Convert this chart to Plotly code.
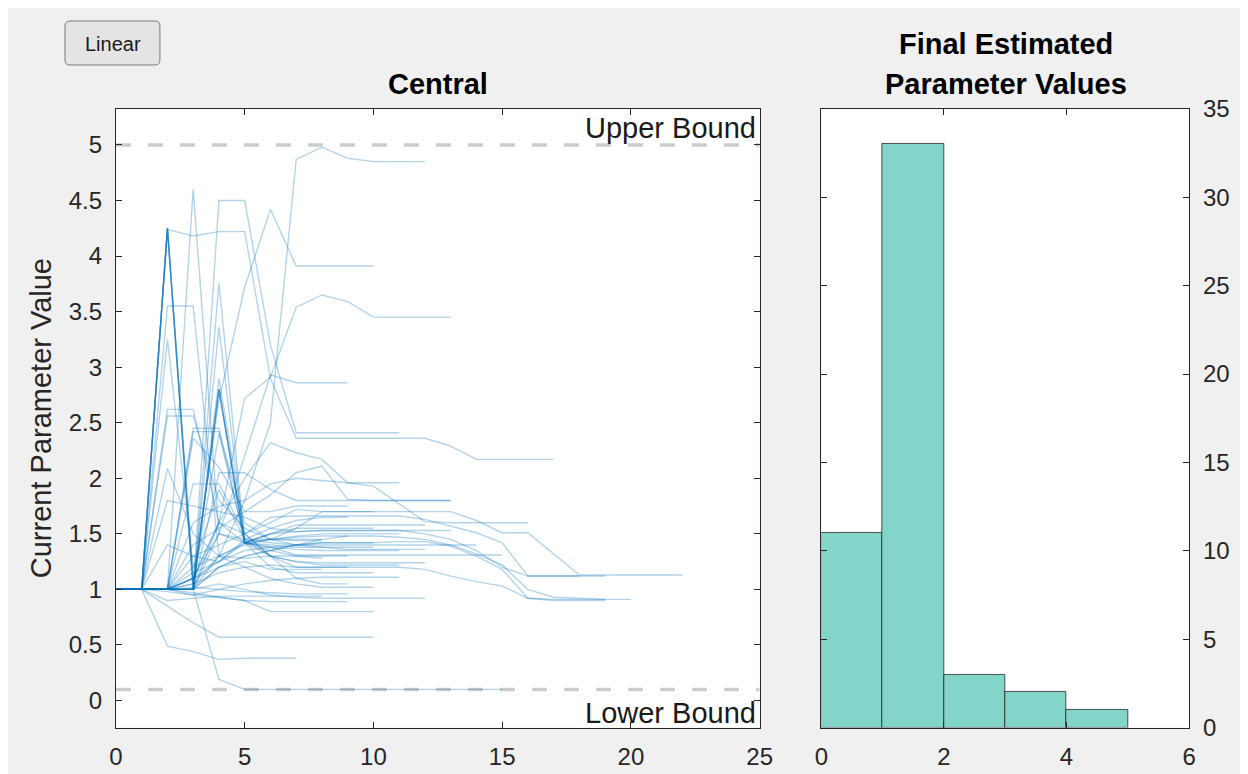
import plotly.graph_objects as go

# ---------------- data ----------------
# Parameter value at each iteration (index = iteration number) for each of 50 runs
run01 = [1, 1, 1, 1.05, 1.3, 1.8, 2.5, 4.87, 4.98, 4.88, 4.85, 4.85, 4.85]
run02 = [1, 1, 1, 1.1, 2.7, 3.72, 4.42, 3.91, 3.91, 3.91, 3.91]
run03 = [1, 1, 1, 1.1, 1.6, 2.72, 2.91, 3.54, 3.65, 3.59, 3.45, 3.45, 3.45, 3.45]
run04 = [1, 1, 1, 1.1, 1.5, 2.2, 2.93, 2.86, 2.86, 2.86]
run05 = [1, 1, 1, 1.0, 4.5, 4.5, 3.2, 2.41, 2.41, 2.41, 2.41, 2.41]
run06 = [1, 1, 4.24, 4.18, 4.22, 4.22, 2.9, 2.36, 2.36, 2.36, 2.36, 2.36, 2.36, 2.29, 2.17, 2.17, 2.17, 2.17]

run07 = [1, 1, 1, 1, 0.19, 0.1, 0.1, 0.1, 0.1, 0.1, 0.1, 0.1, 0.1, 0.1, 0.1, 0.1]
run08 = [1, 1, 0.49, 0.44, 0.37, 0.38, 0.38, 0.38]
run09 = [1, 1, 0.85, 0.70, 0.57, 0.57, 0.57, 0.57, 0.57, 0.57, 0.57]
run10 = [1, 1, 1, 0.97, 0.93, 0.90, 0.80, 0.80, 0.80, 0.80, 0.80]
run11 = [1, 1, 0.98, 0.95, 0.93, 0.90, 0.89, 0.89, 0.89, 0.89]
run12 = [1, 1, 0.9, 0.92, 0.94, 0.94, 0.94, 0.94, 0.94]
run13 = [1, 1, 1, 1.1, 1.25, 1.35, 1.38, 1.40, 1.42, 1.42, 1.42, 1.43, 1.43, 1.39, 1.30, 1.18, 0.92, 0.91, 0.91, 0.91]
run14 = [1, 1, 1, 1.05, 1.15, 1.2, 1.22, 1.2, 1.2, 1.2, 1.2, 1.2, 1.18, 1.12, 1.07, 1.03, 0.92, 0.90, 0.90, 0.90]
run15 = [1, 1, 1, 1, 1.2, 1.3, 1.35, 1.4, 1.45, 1.48, 1.48, 1.47, 1.45, 1.40, 1.32, 1.22, 1.0, 0.93, 0.92, 0.91, 0.91]
run16 = [1, 1, 1, 1.0, 1.05, 1.0, 0.95, 0.93, 0.92, 0.92, 0.92, 0.92, 0.92]
run17 = [1, 1, 1, 1.02, 1.0, 0.98, 0.97, 0.96, 0.96, 0.96]

run18 = [1, 1, 4.25, 1.0, 2.8, 1.42, 1.45, 1.47, 1.48, 1.48]
run19 = [1, 1, 4.25, 1.0, 2.8, 1.42, 1.40, 1.38, 1.38, 1.38, 1.38]
run20 = [1, 1, 4.25, 1.05, 2.4, 1.45, 1.55, 1.62, 1.65, 1.65]
run21 = [1, 1, 3.55, 3.55, 1.3, 1.42, 1.5, 1.55, 1.55, 1.55, 1.55]
run22 = [1, 1, 3.25, 1.2, 1.9, 1.45, 1.42, 1.40, 1.40, 1.40, 1.40, 1.40, 1.40, 1.40, 1.40]
run23 = [1, 1, 2.62, 2.62, 1.6, 1.5, 1.6, 1.72, 1.70, 1.70, 1.70]
run24 = [1, 1, 2.56, 2.56, 1.8, 1.55, 1.45, 1.44, 1.44]
run25 = [1, 1, 2.09, 1.5, 1.3, 1.28, 1.30, 1.30, 1.30, 1.30]
run26 = [1, 1, 1.8, 1.75, 1.7, 1.65, 1.55, 1.52, 1.53, 1.53, 1.53, 1.53, 1.53, 1.53]
run27 = [1, 1, 4.25, 1.0, 2.8, 1.42, 1.38, 1.36, 1.35, 1.35, 1.35, 1.35]
run28 = [1, 1, 4.25, 1.1, 1.6, 1.42, 1.3, 1.25, 1.22, 1.22, 1.22, 1.22]
run29 = [1, 1, 1.4, 1.3, 1.25, 1.45, 1.45, 1.45, 1.45]
run30 = [1, 1, 1, 4.6, 1.5, 1.42, 1.5, 1.58, 1.58, 1.58, 1.58, 1.58, 1.58]
run31 = [1, 1, 1, 2.45, 2.45, 1.42, 1.35, 1.30, 1.28]
run32 = [1, 1, 1, 2.42, 2.42, 1.6, 1.45, 1.40, 1.38, 1.36, 1.36, 1.36, 1.36]
run33 = [1, 1, 1, 2.36, 2.1, 1.7, 1.7, 1.75, 1.75, 1.75]
run34 = [1, 1, 1, 1.95, 1.95, 1.5, 1.3, 1.2, 1.2, 1.20]
run35 = [1, 1, 1, 1.6, 1.75, 1.8, 1.95, 2.0, 1.98, 1.96, 1.93, 1.77, 1.61, 1.60, 1.60, 1.60, 1.60]
run36 = [1, 1, 1, 1.4, 1.55, 1.7, 1.85, 2.05, 2.11, 1.81, 1.80, 1.80, 1.80, 1.80]
run37 = [1, 1, 1, 1.3, 1.4, 1.5, 1.65, 1.66, 1.66, 1.66, 1.66, 1.66, 1.63, 1.57, 1.51, 1.42, 1.12, 1.12, 1.12, 1.12]
run38 = [1, 1, 1, 1.2, 1.3, 1.4, 1.45, 1.55, 1.70, 1.70, 1.70, 1.70, 1.70, 1.70, 1.62, 1.51, 1.51, 1.32, 1.13, 1.13, 1.13, 1.13, 1.13]
run39 = [1, 1, 1, 1.15, 1.25, 1.42, 1.5, 1.52, 1.53, 1.53, 1.53, 1.53, 1.50, 1.45, 1.35, 1.20, 1.12, 1.12, 1.12]
run40 = [1, 1, 1, 1.1, 1.2, 1.3, 1.35, 1.40, 1.42, 1.42, 1.42]
run41 = [1, 1, 1, 0.95, 1.0, 1.05, 1.08, 1.1, 1.11, 1.11, 1.11, 1.11]
run42 = [1, 1, 1, 1, 3.76, 1.42, 1.45, 1.48, 1.50, 1.50, 1.50, 1.50]
run43 = [1, 1, 1, 1, 3.36, 1.42, 1.38, 1.31, 1.31, 1.31, 1.31, 1.31, 1.31, 1.31, 1.31, 1.31]
run44 = [1, 1, 1, 1, 2.9, 1.5, 1.3, 1.25, 1.24, 1.24, 1.24, 1.24, 1.24]
run45 = [1, 1, 1, 1, 2.8, 1.42, 1.2, 1.15, 1.15, 1.15, 1.15]
run46 = [1, 1, 1, 1, 2.05, 2.05, 1.9, 1.8, 1.8, 1.8, 1.8, 1.8, 1.8, 1.8]
run47 = [1, 1, 1, 1, 1.6, 2.0, 2.32, 2.23, 2.17, 1.96, 1.96, 1.96]
run48 = [1, 1, 1, 1, 1.5, 1.45, 1.3, 1.1, 1.05, 1.05]
run49 = [1, 1, 1, 1, 1.3, 1.2, 1.1, 1.05, 1.02, 1.02, 1.02]
run50 = [1, 1, 1, 1, 1.2, 1.25, 1.18, 1.18, 1.18]

runs = [run01, run02, run03, run04, run05, run06, run07, run08, run09, run10,
        run11, run12, run13, run14, run15, run16, run17, run18, run19, run20,
        run21, run22, run23, run24, run25, run26, run27, run28, run29, run30,
        run31, run32, run33, run34, run35, run36, run37, run38, run39, run40,
        run41, run42, run43, run44, run45, run46, run47, run48, run49, run50]

upper_bound = 5.0
lower_bound = 0.1
x_limits = [0, 25]
y_limits = [-0.243, 5.324]
hist_x_limits = [0, 6]
hist_y_limits = [0, 35]
final_values = [r[-1] for r in runs]

# ---------------- figure ----------------
W, H = 1248, 774
FONT = "Liberation Sans, Arial, Helvetica, sans-serif"
TICK_COL = "#262626"

# map screen pixel -> paper fraction (calibrated to the rendering frame)
PX0, PW, PY0, PH = 14.0, 1228.6, 22.0, 747.5

def px_x(p):
    return (p - PX0) / PW

def px_y(p):
    return 1 - (p - PY0) / PH

fig = go.Figure()

# bound lines
for b in (upper_bound, lower_bound):
    fig.add_trace(go.Scatter(
        x=x_limits, y=[b, b], mode="lines",
        line=dict(color="rgb(204,204,204)", width=3.5, dash="15px,17px"),
        hoverinfo="skip", showlegend=False, xaxis="x", yaxis="y"))

for i, r in enumerate(runs):
    fig.add_trace(go.Scatter(
        x=list(range(len(r))), y=r, mode="lines",
        line=dict(color="rgba(0,114,189,0.3)", width=1.4),
        showlegend=False, name=f"Run {i+1}", xaxis="x", yaxis="y"))

fig.add_trace(go.Histogram(
    x=final_values, xbins=dict(start=0, end=6, size=1),
    marker=dict(color="#84d5c9", line=dict(color="rgba(30,30,30,0.75)", width=1)),
    showlegend=False, xaxis="x2", yaxis="y2"))

ydom = [px_y(728), px_y(109)]
axis_common = dict(
    showline=True, linecolor=TICK_COL, linewidth=1, mirror="ticks",
    ticks="inside", ticklen=6, tickcolor=TICK_COL, tickwidth=1,
    showgrid=False, zeroline=False,
    tickfont=dict(family=FONT, size=24, color=TICK_COL),
)

fig.update_layout(
    width=W, height=H, autosize=False,
    margin=dict(l=0, r=0, t=0, b=0, pad=0),
    paper_bgcolor="#f0f0f0", plot_bgcolor="white",
    bargap=0,
    xaxis=dict(domain=[px_x(115), px_x(759)], range=x_limits, dtick=5,
               anchor="y", ticklabelstandoff=8, **axis_common),
    yaxis=dict(domain=ydom, range=y_limits, dtick=0.5, tick0=0,
               anchor="x", ticklabelstandoff=8, **axis_common),
    xaxis2=dict(domain=[px_x(820.7), px_x(1188.7)], range=hist_x_limits, dtick=2,
                anchor="y2", ticklabelstandoff=8, **axis_common),
    yaxis2=dict(domain=ydom, range=hist_y_limits, dtick=5, side="right",
                anchor="x2", ticklabelstandoff=8, **axis_common),
)

title_font = dict(family=FONT, size=29, color="black")
annotations = [
    dict(text="<b>Central</b>", x=px_x(437), y=px_y(84), font=title_font),
    dict(text="<b>Final Estimated</b>", x=px_x(1005), y=px_y(44), font=title_font),
    dict(text="<b>Parameter Values</b>", x=px_x(1005), y=px_y(84), font=title_font),
    dict(text="Current Parameter Value", x=px_x(40), y=px_y(418.5), textangle=-90,
         font=dict(family=FONT, size=29, color=TICK_COL)),
    dict(text="Linear", x=px_x(112), y=px_y(44), font=dict(family=FONT, size=20, color="#1a1a1a")),
]
for a in annotations:
    a.update(xref="paper", yref="paper", showarrow=False, xanchor="center", yanchor="middle")

annotations += [
    dict(text="Upper Bound", xref="x", yref="y", x=x_limits[1], y=5.15, xanchor="right",
         yanchor="middle", xshift=-2, showarrow=False,
         font=dict(family=FONT, size=29, color="#1a1a1a")),
    dict(text="Lower Bound", xref="x", yref="y", x=x_limits[1], y=-0.108, xanchor="right",
         yanchor="middle", xshift=-2, showarrow=False,
         font=dict(family=FONT, size=29, color="#1a1a1a")),
]
fig.update_layout(annotations=annotations)

# "Linear" button (rounded rectangle)
bx0, bx1, by0, by1, rr = 64, 159, 21, 65, 5
def P(x, y):
    return f"{px_x(x):.5f},{px_y(y):.5f}"
path = (f"M {P(bx0+rr, by0)} L {P(bx1-rr, by0)} Q {P(bx1, by0)} {P(bx1, by0+rr)} "
        f"L {P(bx1, by1-rr)} Q {P(bx1, by1)} {P(bx1-rr, by1)} "
        f"L {P(bx0+rr, by1)} Q {P(bx0, by1)} {P(bx0, by1-rr)} "
        f"L {P(bx0, by0+rr)} Q {P(bx0, by0)} {P(bx0+rr, by0)} Z")
fig.add_shape(type="path", path=path, xref="paper", yref="paper",
              fillcolor="#e4e4e4", line=dict(color="#7a7a7a", width=1), layer="below")

fig.write_html("out.html")
